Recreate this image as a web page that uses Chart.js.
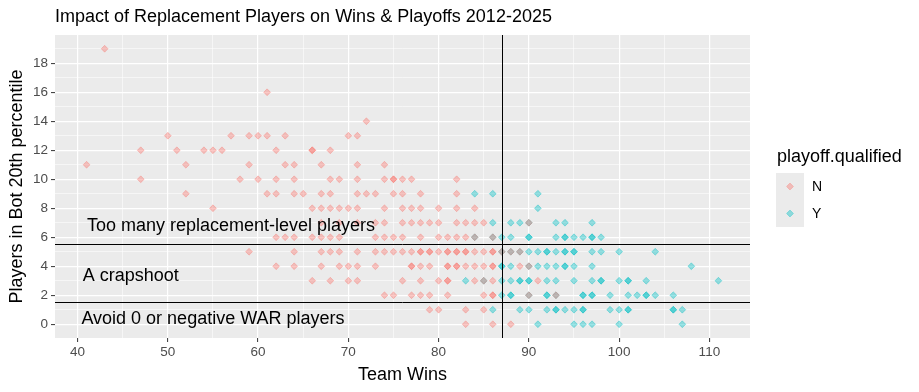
<!DOCTYPE html>
<html><head><meta charset="utf-8">
<script src="https://cdn.jsdelivr.net/npm/chart.js@4/dist/chart.umd.min.js"></script>
<style>html,body{margin:0;padding:0;background:#fff}#wrap{width:919px;height:392px;position:relative}</style>
</head><body><div id="wrap"><canvas id="c" width="919" height="392"></canvas></div>
<script>
// ---- Data ----
const chartTitle = "Impact of Replacement Players on Wins & Playoffs 2012-2025";
const xTitle = "Team Wins";
const yTitle = "Players in Bot 20th percentile";
const legendTitle = "playoff.qualified";
const legendLabels = ["N", "Y"];

// Teams that did NOT qualify for playoffs (N)
const nWins = [
  43,
  61,
  72,
  50,57,59,60,61,63,70,71,
  47,51,54,55,56,62,66,66,68,
  41,52,59,63,64,67,71,74,
  47,58,60,62,64,68,69,71,74,75,75,76,77,82,
  52,61,62,64,65,67,68,71,72,73,75,76,78,82,
  55,66,67,68,69,70,71,74,76,77,78,80,82,84,
  67,69,71,73,74,76,77,78,79,80,82,83,84,85,90,
  62,63,64,66,67,68,69,73,74,75,76,78,80,81,82,83,84,86,
  59,64,67,68,69,71,73,74,75,76,77,78,78,79,79,80,81,81,82,82,83,83,84,85,86,86,87,88,89,
  62,64,67,69,70,71,73,77,77,78,79,81,81,82,82,83,84,85,86,86,89,90,
  66,68,70,71,76,78,80,81,81,84,85,86,91,
  74,75,77,78,79,81,85,86,86,90,93,
  79,80,83,85,
  83,86,88
];
const nPlayers = [
  19,
  16,
  14,
  13,13,13,13,13,13,13,13,
  12,12,12,12,12,12,12,12,12,
  11,11,11,11,11,11,11,11,
  10,10,10,10,10,10,10,10,10,10,10,10,10,10,
  9,9,9,9,9,9,9,9,9,9,9,9,9,9,
  8,8,8,8,8,8,8,8,8,8,8,8,8,8,
  7,7,7,7,7,7,7,7,7,7,7,7,7,7,7,
  6,6,6,6,6,6,6,6,6,6,6,6,6,6,6,6,6,6,
  5,5,5,5,5,5,5,5,5,5,5,5,5,5,5,5,5,5,5,5,5,5,5,5,5,5,5,5,5,
  4,4,4,4,4,4,4,4,4,4,4,4,4,4,4,4,4,4,4,4,4,4,
  3,3,3,3,3,3,3,3,3,3,3,3,3,
  2,2,2,2,2,2,2,2,2,2,2,
  1,1,1,1,
  0,0,0
];

// Teams that DID qualify for playoffs (Y)
const yWins = [
  84,86,91,
  91,
  86,88,89,90,93,94,97,
  84,86,87,88,90,90,93,94,94,95,96,97,97,98,
  87,88,89,90,91,92,92,93,94,94,95,95,97,98,100,104,
  87,87,88,90,91,92,93,94,94,95,97,108,
  83,85,87,88,89,89,90,90,92,93,95,97,98,98,100,101,101,103,111,
  87,88,88,90,92,92,93,96,96,97,97,99,101,102,103,103,104,106,
  86,89,90,92,93,93,94,95,96,96,99,100,101,101,106,106,107,
  91,95,96,97,100,107
];
const yPlayers = [
  9,9,9,
  8,
  7,7,7,7,7,7,7,
  6,6,6,6,6,6,6,6,6,6,6,6,6,6,
  5,5,5,5,5,5,5,5,5,5,5,5,5,5,5,5,
  4,4,4,4,4,4,4,4,4,4,4,4,
  3,3,3,3,3,3,3,3,3,3,3,3,3,3,3,3,3,3,3,
  2,2,2,2,2,2,2,2,2,2,2,2,2,2,2,2,2,2,
  1,1,1,1,1,1,1,1,1,1,1,1,1,1,1,1,1,
  0,0,0,0,0,0
];

// Reference lines and zone annotations
const vLineWins = [87];
const hLinePlayers = [5.5, 1.5];
const zoneLabels = ["Too many replacement-level players", "A crapshoot", "Avoid 0 or negative WAR players"];
const zoneX = [57, 45.9, 55];
const zoneY = [6.75, 3.3, 0.35];

// Axis ticks
const xTicks = [40,45,50,55,60,65,70,75,80,85,90,95,100,105,110];
const yTicks = [0,1,2,3,4,5,6,7,8,9,10,11,12,13,14,15,16,17,18,19];

// ---- Styling ----
const FONT = "'Liberation Sans', Arial, sans-serif";
const colN = "248,118,109", colY = "0,191,196";
const toPts = (xs, ys) => xs.map((x, i) => ({x: x, y: ys[i]}));

const panelBg = {
  id: 'panelBg',
  beforeDraw(chart) {
    const {ctx, chartArea: a} = chart;
    ctx.save();
    ctx.fillStyle = '#fff';
    ctx.fillRect(0, 0, chart.width, chart.height);
    ctx.fillStyle = '#EBEBEB';
    ctx.fillRect(a.left, a.top, a.right - a.left, a.bottom - a.top);
    ctx.restore();
  }
};

function diamond(ctx, x, y, r, rgb) {
  ctx.beginPath();
  ctx.moveTo(x - r, y); ctx.lineTo(x, y - r); ctx.lineTo(x + r, y); ctx.lineTo(x, y + r); ctx.closePath();
  ctx.fillStyle = 'rgba(' + rgb + ',0.4)'; ctx.fill();
  ctx.strokeStyle = 'rgba(' + rgb + ',0.45)'; ctx.lineWidth = 0.8; ctx.stroke();
}

const overlay = {
  id: 'overlay',
  afterDatasetsDraw(chart) {
    const {ctx, chartArea: a, scales: {x, y}} = chart;
    ctx.save();
    ctx.strokeStyle = '#000'; ctx.lineWidth = 1;
    vLineWins.forEach(v => {
      const px = Math.round(x.getPixelForValue(v)) + 0.5;
      ctx.beginPath(); ctx.moveTo(px, a.top); ctx.lineTo(px, a.bottom); ctx.stroke();
    });
    hLinePlayers.forEach(v => {
      const py = Math.round(y.getPixelForValue(v)) + 0.5;
      ctx.beginPath(); ctx.moveTo(a.left, py); ctx.lineTo(a.right, py); ctx.stroke();
    });
    ctx.fillStyle = '#000';
    ctx.font = '18px ' + FONT;
    ctx.textAlign = 'center'; ctx.textBaseline = 'middle';
    zoneLabels.forEach((t, i) => ctx.fillText(t, x.getPixelForValue(zoneX[i]), y.getPixelForValue(zoneY[i])));
    ctx.restore();
  },
  afterDraw(chart) {
    const {ctx, chartArea: a} = chart;
    ctx.save();
    // title
    ctx.fillStyle = '#000';
    ctx.font = '18px ' + FONT;
    ctx.textAlign = 'left'; ctx.textBaseline = 'middle';
    ctx.fillText(chartTitle, a.left, 17);
    // legend
    ctx.font = '18px ' + FONT;
    ctx.fillText(legendTitle, 777, 157);
    const keyX = 776, keyW = 28, keyTop = 173, keyH = 27;
    ctx.fillStyle = '#EBEBEB';
    ctx.fillRect(keyX, keyTop, keyW, keyH * 2);
    const cols = [colN, colY];
    ctx.font = '14px ' + FONT;
    legendLabels.forEach((lab, i) => {
      const cy = keyTop + keyH * i + keyH / 2;
      diamond(ctx, keyX + keyW / 2, cy, 3.4, cols[i]);
      ctx.fillStyle = '#000';
      ctx.fillText(lab, 812, cy + 1);
    });
    ctx.restore();
  }
};

const gridCommon = (isMajor) => ({
  color: '#FFFFFF',
  lineWidth: c => isMajor(c.tick.value) ? 1.2 : 0.55,
  tickColor: c => isMajor(c.tick.value) ? '#333333' : 'rgba(0,0,0,0)',
  tickLength: 4,
  tickWidth: 1,
  drawTicks: true
});

const xMajor = v => v % 10 === 0;
const yMajor = v => v % 2 === 0;

new Chart(document.getElementById('c'), {
  type: 'scatter',
  data: {
    datasets: [
      { label: 'N', data: toPts(nWins, nPlayers),
        pointStyle: 'rectRot', pointRadius: 3.4, pointHoverRadius: 3.4,
        backgroundColor: 'rgba(' + colN + ',0.4)', borderColor: 'rgba(' + colN + ',0.45)', borderWidth: 0.8 },
      { label: 'Y', data: toPts(yWins, yPlayers),
        pointStyle: 'rectRot', pointRadius: 3.4, pointHoverRadius: 3.4,
        backgroundColor: 'rgba(' + colY + ',0.4)', borderColor: 'rgba(' + colY + ',0.45)', borderWidth: 0.8 }
    ]
  },
  options: {
    responsive: false,
    animation: false,
    devicePixelRatio: 1,
    events: [],
    layout: { padding: { left: 0, right: 169, top: 35, bottom: 0 } },
    plugins: { legend: { display: false }, tooltip: { enabled: false }, title: { display: false } },
    scales: {
      x: {
        type: 'linear', min: 37.5, max: 114.5,
        afterBuildTicks: s => { s.ticks = xTicks.map(v => ({value: v})); },
        afterFit: s => { s.height = 54; },
        grid: gridCommon(xMajor),
        border: { display: false },
        ticks: { autoSkip: false, maxRotation: 0, padding: 2, color: '#4D4D4D',
                 font: { family: FONT, size: 13.5 },
                 callback: v => xMajor(v) ? String(v) : '' },
        title: { display: true, text: xTitle, color: '#000', font: { family: FONT, size: 18 },
                 padding: { top: 0, bottom: 6 } }
      },
      y: {
        type: 'linear', min: -0.95, max: 19.95,
        afterBuildTicks: s => { s.ticks = yTicks.map(v => ({value: v})); },
        afterFit: s => { s.width = 55; },
        grid: gridCommon(yMajor),
        border: { display: false },
        ticks: { autoSkip: false, padding: 3, color: '#4D4D4D',
                 font: { family: FONT, size: 13.5 },
                 callback: v => yMajor(v) ? String(v) : '' },
        title: { display: true, text: yTitle, color: '#000', font: { family: FONT, size: 18 },
                 padding: { top: 6, bottom: 0 } }
      }
    }
  },
  plugins: [panelBg, overlay]
});
</script></body></html>
